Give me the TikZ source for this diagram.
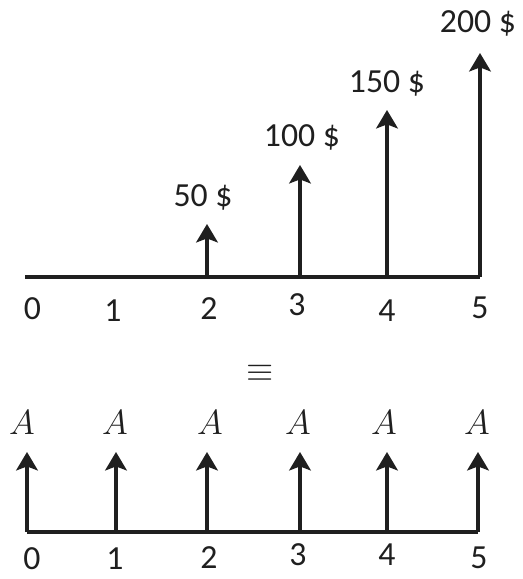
\documentclass[tikz,border=0pt]{standalone}
\usepackage{fontspec}
\setmainfont{Carlito}
\usetikzlibrary{arrows.meta}
\tikzset{
  % garis sumbu waktu
  axis/.style={line width=2.8pt, black!88},
  % panah arus kas
  flow/.style={line width=2.8pt, black!88,
               -{Stealth[length=0.46cm,width=0.54cm,inset=0.1cm]}},
  % label angka periode dan nilai
  tick/.style={font=\fontsize{24}{26}\selectfont, black!88, inner sep=0pt},
  cash/.style={font=\fontsize{24}{26}\selectfont, black!88, inner sep=0pt},
  anuitas/.style={font=\fontsize{26}{28}\selectfont, black!88, inner sep=0pt},
}
\begin{document}
\begin{tikzpicture}
\useasboundingbox (0,0) rectangle (13.05,14.475);

% =================== ARUS KAS TIDAK SERAGAM ===================
\coordinate (a0) at (0.625,7.55);
\coordinate (a2) at (5.175,7.55);
\coordinate (a3) at (7.5,7.55);
\coordinate (a4) at (9.675,7.55);
\coordinate (a5) at (12.0,7.55);
\coordinate (p2) at (5.175,8.875);
\coordinate (p3) at (7.5,10.35);
\coordinate (p4) at (9.675,11.725);
\coordinate (p5) at (12.0,13.15);

\draw[axis] (a0) -- (a5);
\draw[flow] (a2) -- (p2);
\draw[flow] (a3) -- (p3);
\draw[flow] (a4) -- (p4);
\draw[flow] (a5) -- (p5);

\node[cash] (v2) at (5.075,9.55) {50 \$};
\node[cash] (v3) at (7.55,11.05) {100 \$};
\node[cash] (v4) at (9.675,12.4) {150 \$};
\node[cash] (v5) at (11.95,13.9) {200 \$};

\node[tick] (ta0) at (0.8125,6.75) {0};
\node[tick] (ta1) at (2.825,6.7) {1};
\node[tick] (ta2) at (5.225,6.75) {2};
\node[tick] (ta3) at (7.425,6.85) {3};
\node[tick] (ta4) at (9.675,6.7) {4};
\node[tick] (ta5) at (12.0,6.775) {5};

% ekuivalen
\node[font=\fontsize{38}{40}\selectfont, black!88, inner sep=0pt] (ekv) at (6.5,5.15) {$\equiv$};

% =================== ANUITAS A ===================
\coordinate (b0) at (0.675,1.175);
\coordinate (b1) at (2.9,1.175);
\coordinate (b2) at (5.175,1.175);
\coordinate (b3) at (7.5,1.175);
\coordinate (b4) at (9.675,1.175);
\coordinate (b5) at (11.95,1.175);
\coordinate (q0) at (0.675,3.175);
\coordinate (q1) at (2.9,3.175);
\coordinate (q2) at (5.175,3.175);
\coordinate (q3) at (7.5,3.175);
\coordinate (q4) at (9.675,3.175);
\coordinate (q5) at (11.95,3.175);

\draw[axis] (b0) -- (b5);
\draw[flow] (b0) -- (q0);
\draw[flow] (b1) -- (q1);
\draw[flow] (b2) -- (q2);
\draw[flow] (b3) -- (q3);
\draw[flow] (b4) -- (q4);
\draw[flow] (b5) -- (q5);

\node[anuitas] (A0) at (0.55,3.9) {$A$};
\node[anuitas] (A1) at (2.875,3.9) {$A$};
\node[anuitas] (A2) at (5.25,3.9) {$A$};
\node[anuitas] (A3) at (7.45,3.9) {$A$};
\node[anuitas] (A4) at (9.6,3.9) {$A$};
\node[anuitas] (A5) at (11.925,3.9) {$A$};

\node[tick] (tb0) at (0.8,0.52) {0};
\node[tick] (tb1) at (2.875,0.5) {1};
\node[tick] (tb2) at (5.225,0.54) {2};
\node[tick] (tb3) at (7.45,0.6) {3};
\node[tick] (tb4) at (9.675,0.6) {4};
\node[tick] (tb5) at (11.975,0.52) {5};

\end{tikzpicture}
\end{document}
